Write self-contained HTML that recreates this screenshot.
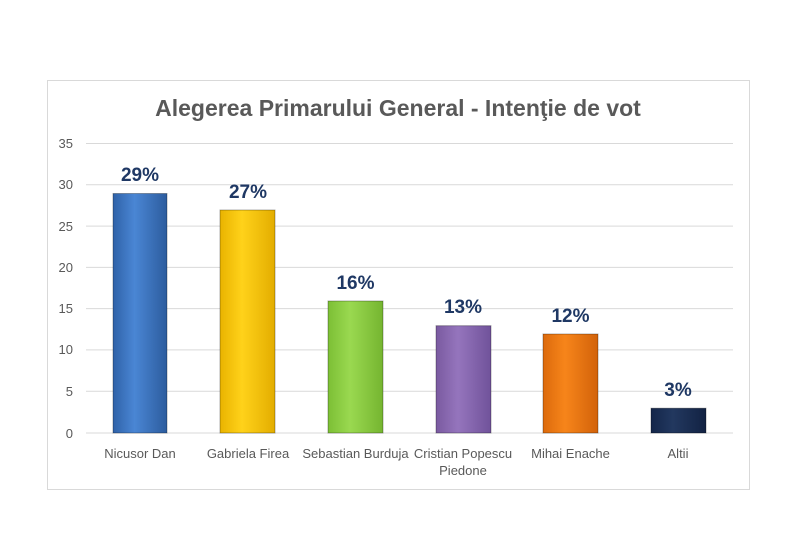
<!DOCTYPE html>
<html><head><meta charset="utf-8"><style>
html,body{margin:0;padding:0;background:#fff;}
svg{display:block;font-family:"Liberation Sans",sans-serif;}
</style></head><body>
<svg width="800" height="534" viewBox="0 0 800 534" xmlns="http://www.w3.org/2000/svg">
<defs>
<linearGradient id="g1" x1="0" x2="1"><stop offset="0" stop-color="#2f62a8"/><stop offset=".4" stop-color="#4a86d4"/><stop offset="1" stop-color="#2c5c9e"/></linearGradient>
<linearGradient id="g2" x1="0" x2="1"><stop offset="0" stop-color="#e9b300"/><stop offset=".4" stop-color="#ffd21a"/><stop offset="1" stop-color="#e3ad00"/></linearGradient>
<linearGradient id="g3" x1="0" x2="1"><stop offset="0" stop-color="#7cbf35"/><stop offset=".4" stop-color="#9ad950"/><stop offset="1" stop-color="#75b530"/></linearGradient>
<linearGradient id="g4" x1="0" x2="1"><stop offset="0" stop-color="#7a5aa0"/><stop offset=".4" stop-color="#9575bd"/><stop offset="1" stop-color="#70529a"/></linearGradient>
<linearGradient id="g5" x1="0" x2="1"><stop offset="0" stop-color="#dc6a0c"/><stop offset=".4" stop-color="#f7851a"/><stop offset="1" stop-color="#d2620a"/></linearGradient>
<linearGradient id="g6" x1="0" x2="1"><stop offset="0" stop-color="#14264a"/><stop offset=".4" stop-color="#22385f"/><stop offset="1" stop-color="#122243"/></linearGradient>
</defs>
<rect x="47.5" y="80.5" width="702" height="409" fill="#fff" stroke="#d9d9d9"/>
<text x="398" y="116" text-anchor="middle" font-size="23" font-weight="bold" fill="#595959">Alegerea Primarului General - Intenţie de vot</text>
<g stroke="#d9d9d9" stroke-width="1">
<line x1="86" x2="733" y1="143.5" y2="143.5"/>
<line x1="86" x2="733" y1="184.8" y2="184.8"/>
<line x1="86" x2="733" y1="226.1" y2="226.1"/>
<line x1="86" x2="733" y1="267.4" y2="267.4"/>
<line x1="86" x2="733" y1="308.6" y2="308.6"/>
<line x1="86" x2="733" y1="349.9" y2="349.9"/>
<line x1="86" x2="733" y1="391.2" y2="391.2"/>
<line x1="86" x2="733" y1="433" y2="433"/>
</g>
<g font-size="13" fill="#595959" text-anchor="end">
<text x="73" y="148">35</text><text x="73" y="189">30</text><text x="73" y="231">25</text><text x="73" y="272">20</text><text x="73" y="313">15</text><text x="73" y="354">10</text><text x="73" y="396">5</text><text x="73" y="438">0</text>
</g>
<g stroke-opacity=".3" stroke="#000">
<rect x="113" y="193.5" width="54" height="239.5" fill="url(#g1)"/>
<rect x="220" y="210" width="55" height="223" fill="url(#g2)"/>
<rect x="328" y="301" width="55" height="132" fill="url(#g3)"/>
<rect x="436" y="325.7" width="55" height="107.3" fill="url(#g4)"/>
<rect x="543" y="334" width="55" height="99" fill="url(#g5)"/>
<rect x="651" y="408.2" width="55" height="24.8" fill="url(#g6)"/>
</g>
<g font-size="19" font-weight="bold" fill="#1f3864" text-anchor="middle">
<text x="140" y="181">29%</text><text x="248" y="198">27%</text><text x="355.5" y="289">16%</text><text x="463" y="313">13%</text><text x="570.5" y="322">12%</text><text x="678" y="396">3%</text>
</g>
<g font-size="13" fill="#595959" text-anchor="middle">
<text x="140" y="458">Nicusor Dan</text><text x="248" y="458">Gabriela Firea</text><text x="355.5" y="458">Sebastian Burduja</text><text x="463" y="458">Cristian Popescu</text><text x="463" y="475">Piedone</text><text x="570.5" y="458">Mihai Enache</text><text x="678" y="458">Altii</text>
</g>
</svg>
</body></html>
